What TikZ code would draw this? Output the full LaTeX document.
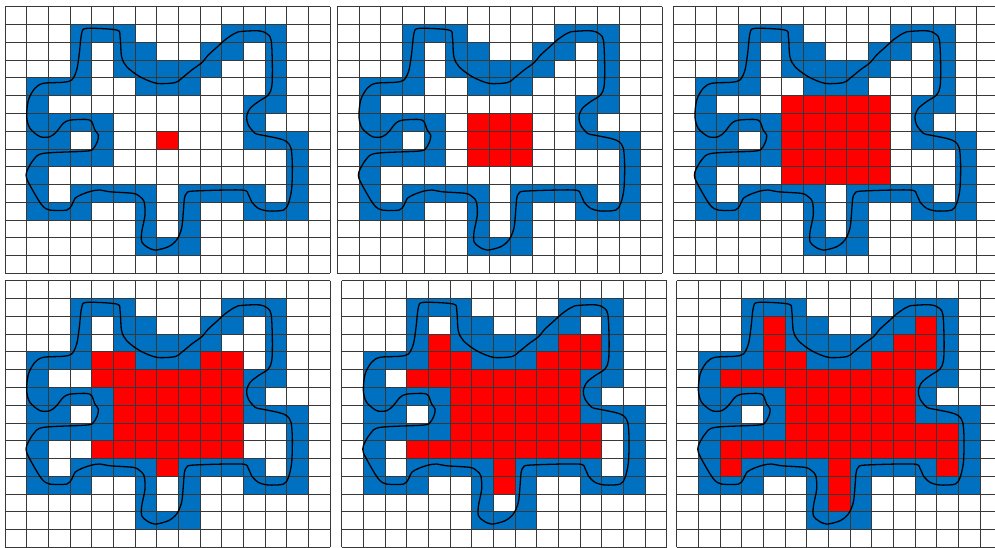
\documentclass[tikz,border=0pt]{standalone}
\definecolor{cblue}{HTML}{0070C0}
\definecolor{cred}{HTML}{FF0000}
\tikzset{
  gridline/.style={draw=black!78, line width=0.8pt},
  contour/.style={draw=black, line width=1.3pt, line join=round}
}
\newcommand{\bluelist}{1/{3,4,5,10,11,12},2/{3,5,6,9,10,12},3/{3,5,6,7,8,9,12},4/{1,2,3,6,7,8,12},5/{1,11,12},6/{1,2,3,4,11},7/{1,2,4,11,12,13},8/{1,2,3,4,13},9/{1,13},10/{1,3,4,5,6,8,9,10,11,13},11/{1,2,3,6,8,11,12,13},12/{6,8},13/{6,7,8}}
\newcommand{\drawpanel}[3]{%
  \begin{scope}[shift={(#1pt,-#2pt)}, x=21.67pt, y=-17.78pt]
    \fill[white] (0,0) rectangle (15,15);
    \foreach \r/\cs in \bluelist { \foreach \c in \cs { \fill[cblue] (\c,\r) rectangle ++(1,1); } }
    \foreach \r/\cs in {#3} { \foreach \c in \cs { \fill[cred] (\c,\r) rectangle ++(1,1); } }
    \foreach \i in {0,...,15} {
      \draw[gridline] (\i,0) -- (\i,15);
      \draw[gridline] (0,\i) -- (15,\i);
    }
    \draw[contour] plot[smooth cycle, tension=0.5] coordinates {
      (3.43,2.62) (3.54,1.50) (3.77,1.22) (5.15,1.31) (5.31,1.69) (5.38,2.81)
      (5.62,3.38) (6.23,3.94) (7.0,4.31) (7.85,4.27) (8.15,4.03) (8.62,3.56)
      (9.08,3.15) (9.38,2.72) (9.77,2.29) (10.15,1.87) (10.54,1.54) (10.77,1.41)
      (11.54,1.35) (11.92,1.41) (12.23,1.69) (12.31,2.25) (12.34,3.56) (12.31,4.5)
      (12.15,4.97) (11.69,5.34) (11.31,5.72) (11.15,6.19) (11.23,6.66) (11.54,7.12)
      (11.85,7.22) (12.62,7.41) (13.0,7.59) (13.2,7.97) (13.26,8.9) (13.23,10.22)
      (13.08,11.06) (12.85,11.44) (12.15,11.49) (11.69,11.34) (11.38,10.97) (11.23,10.56)
      (10.92,10.31) (8.69,10.37) (8.38,10.5) (8.28,10.78) (8.23,11.53) (8.15,12.47)
      (7.92,13.12) (7.54,13.5) (6.92,13.69) (6.54,13.5) (6.31,13.22) (6.31,12.66)
      (6.46,11.72) (6.42,10.97) (6.23,10.69) (5.92,10.5) (4.85,10.41) (4.38,10.31)
      (4.0,10.37) (3.54,10.56) (3.23,10.78) (3.08,11.16) (2.85,11.44) (2.08,11.44)
      (1.77,11.25) (1.54,10.87) (1.23,10.22) (1.0,9.66) (1.0,9.28) (1.31,8.62)
      (1.77,8.25) (3.77,8.12) (4.08,7.97) (4.26,7.59) (4.31,7.22) (4.15,6.94)
      (4.0,6.47) (3.77,6.34) (3.0,6.38) (2.69,6.56) (2.38,7.03) (2.08,7.31)
      (1.62,7.31) (1.15,6.84) (1.0,6.19) (1.08,5.25) (1.38,4.59) (1.77,4.31)
      (2.69,4.25) (3.08,4.12) (3.31,3.56)
    };
  \end{scope}%
}
\begin{document}
\begin{tikzpicture}
  \path[use as bounding box] (0pt,0pt) rectangle (995pt,-548pt);
  \clip (0pt,0pt) rectangle (995pt,-548pt);
  \fill[white] (0pt,0pt) rectangle (995pt,-548pt);
  \drawpanel{5}{6.7}{7/{7}}
  \drawpanel{337.3}{6.7}{6/{6,7,8},7/{6,7,8},8/{6,7,8}}
  \drawpanel{673.3}{6.7}{5/{5,...,9},6/{5,...,9},7/{5,...,9},8/{5,...,9},9/{5,...,9}}
  \drawpanel{5}{280.7}{4/{4,5,9,10},5/{4,...,10},6/{5,...,10},7/{5,...,10},8/{5,...,10},9/{4,...,10},10/{7}}
  \drawpanel{341.7}{280.7}{3/{4,10,11},4/{4,5,9,10,11},5/{3,...,10},6/{5,...,10},7/{5,...,10},8/{5,...,11},9/{3,...,11},10/{7},11/{7}}
  \drawpanel{676.7}{280.7}{2/{4,11},3/{4,10,11},4/{4,5,9,10,11},5/{2,...,10},6/{5,...,10},7/{5,...,10},8/{5,...,12},9/{2,...,12},10/{2,7,12},11/{7},12/{7}}
\end{tikzpicture}
\end{document}
